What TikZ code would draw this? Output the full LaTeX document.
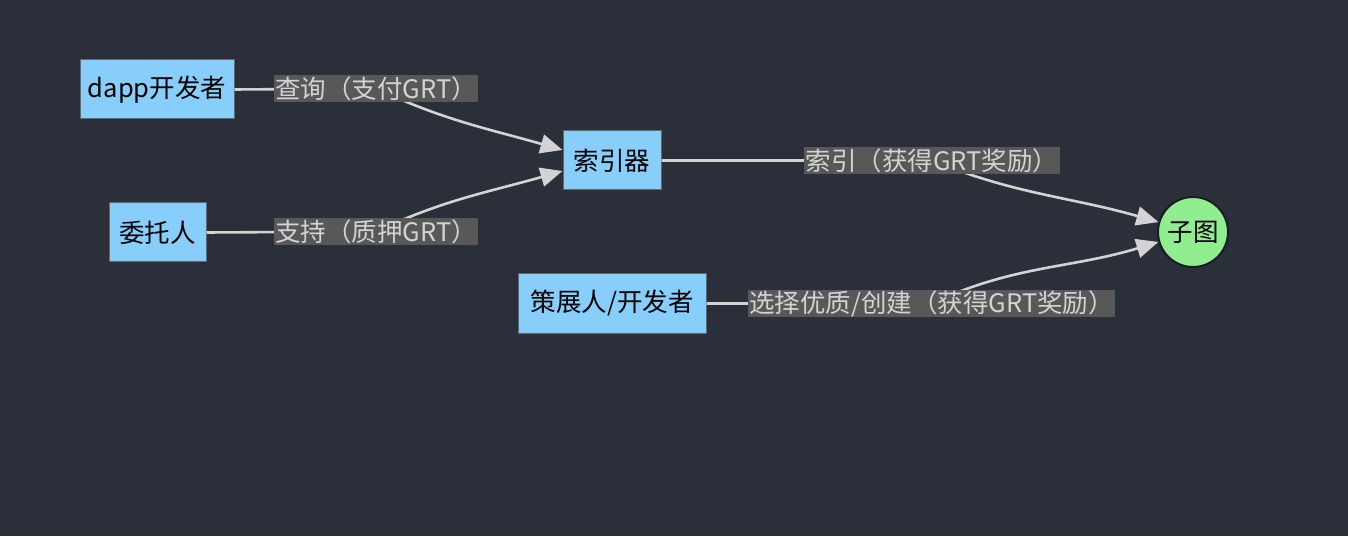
\documentclass[tikz,border=0pt]{standalone}
\usepackage{fontspec}
\setmainfont{Noto Sans CJK SC}
\usetikzlibrary{arrows.meta}
\definecolor{bgdark}{HTML}{2B2F3A}
\definecolor{boxblue}{HTML}{87CEFA}
\definecolor{roundgreen}{HTML}{90EE90}
\definecolor{lblgray}{HTML}{585858}
\definecolor{linegray}{HTML}{D3D3D3}
\begin{document}
\begin{tikzpicture}[x=1pt,y=1pt,font=\fontsize{25.5}{30}\selectfont,
    actor/.style={draw=gray!80!black,line width=1pt,fill=boxblue,minimum height=59pt,inner xsep=0pt},
    roundnode/.style={circle,draw=bgdark!60!black,line width=2pt,fill=roundgreen,minimum size=70pt,inner sep=0pt},
    flow/.style={draw=linegray,line width=2.6pt,-{Triangle[length=22pt,width=19pt]}},
    flowlabel/.style={fill=lblgray,text=linegray,inner xsep=1.5pt,inner ysep=0pt,minimum height=27pt}]
  \fill[bgdark] (0,0) rectangle (1348,536);
  \useasboundingbox (0,0) rectangle (1348,536);
  \node[actor,minimum width=154pt] (dapp) at (157,446.5) {dapp开发者};
  \node[actor,minimum width=97pt] (wtr) at (157.5,303.5) {委托人};
  \node[actor,minimum width=98pt] (idx) at (612,375.5) {索引器};
  \node[actor,minimum width=188pt] (cur) at (612,232.5) {策展人/开发者};
  \node[roundnode] (sub) at (1193,304) {子图};
  \draw[flow] (dapp.east) -- (376,447.5) node[flowlabel]{查询（支付GRT）} to[out=-25,in=164] ([yshift=10.5pt]idx.west);
  \draw[flow] (wtr.east) -- (376,304.5) node[flowlabel]{支持（质押GRT）} to[out=25,in=196] ([yshift=-10.5pt]idx.west);
  \draw[flow] (idx.east) -- (932,375.5) node[flowlabel]{索引（获得GRT奖励）} to[out=-22,in=164] (sub.164);
  \draw[flow] (cur.east) -- (931.5,232.5) node[flowlabel]{选择优质/创建（获得GRT奖励）} to[out=25,in=197] (sub.196);
\end{tikzpicture}
\end{document}
